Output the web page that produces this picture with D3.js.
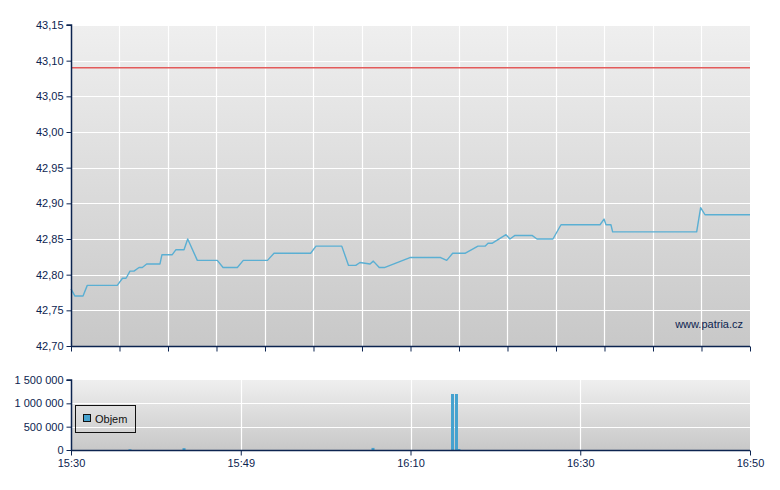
<!DOCTYPE html>
<html>
<head>
<meta charset="utf-8">
<script src="https://cdn.jsdelivr.net/npm/d3@7"></script>
<style>
  html, body { margin: 0; padding: 0; background: #ffffff; }
  svg { display: block; font-family: "Liberation Sans", Arial, sans-serif; }
</style>
</head>
<body>
<svg id="chart" width="780" height="490"></svg>
<script>
// ---- DATA ----
const priceTimes = ["15:30:00","15:30:28","15:31:25","15:31:55","15:35:27","15:36:04","15:36:29","15:36:57","15:37:25","15:38:01","15:38:24","15:38:55","15:40:29","15:40:43","15:41:56","15:42:22","15:43:19","15:43:45","15:44:53","15:47:14","15:47:55","15:49:36","15:50:18","15:53:09","15:53:55","15:58:14","15:58:52","16:01:54","16:02:42","16:03:33","16:04:03","16:05:14","16:05:37","16:06:19","16:06:55","16:09:56","16:13:33","16:14:16","16:14:58","16:16:25","16:17:57","16:18:47","16:19:08","16:19:36","16:21:15","16:21:43","16:22:19","16:24:19","16:24:54","16:26:47","16:27:44","16:32:20","16:32:48","16:33:02","16:33:37","16:33:49","16:43:43","16:44:11","16:44:42","16:50:00"];
const priceValues = [42.78,42.77,42.77,42.785,42.785,42.795,42.795,42.805,42.805,42.81,42.81,42.815,42.815,42.828,42.828,42.835,42.835,42.85,42.82,42.82,42.81,42.81,42.82,42.82,42.83,42.83,42.84,42.84,42.813,42.813,42.817,42.815,42.819,42.81,42.81,42.824,42.824,42.82,42.83,42.83,42.84,42.84,42.844,42.844,42.856,42.85,42.855,42.855,42.85,42.85,42.87,42.87,42.878,42.87,42.87,42.86,42.86,42.894,42.884,42.884];
const referencePrice = 43.09;

const volumeTimes = ["15:36:57","15:43:19","16:05:35","16:14:57","16:15:25","16:15:42"];
const volumeValues = [15000,40000,45000,1200000,1200000,20000];

const priceTicks = [42.70,42.75,42.80,42.85,42.90,42.95,43.00,43.05,43.10,43.15];
const volumeTicks = [0,500000,1000000,1500000];
const timeTickTimes = ["15:30:00","15:50:00","16:10:00","16:30:00","16:50:00"];
const timeTickLabels = ["15:30","15:49","16:10","16:30","16:50"];
const seriesName = "Objem";
const watermark = "www.patria.cz";

// ---- HELPERS ----
const parseT = s => { const [h,m,sec] = s.split(":").map(Number); return new Date(2020,0,1,h,m,sec); };
const fmtPrice = v => v.toFixed(2).replace(".", ",");
const fmtVol = v => d3.format(",")(v).replace(/,/g, " ");

const navy = "#0c2450";
const svg = d3.select("#chart");

const x = d3.scaleTime().domain([parseT("15:30:00"), parseT("16:50:00")]).range([71, 750]);
const yP = d3.scaleLinear().domain([42.70, 43.15]).range([346, 25]);
const yV = d3.scaleLinear().domain([0, 1500000]).range([450, 380]);

const defs = svg.append("defs");
const grad = defs.append("linearGradient").attr("id","bg").attr("x1",0).attr("y1",0).attr("x2",0).attr("y2",1);
grad.append("stop").attr("offset","0%").attr("stop-color","#efefef");
grad.append("stop").attr("offset","100%").attr("stop-color","#c8c8c8");

// ---- TOP PANEL ----
const gTop = svg.append("g");
gTop.append("rect").attr("x", x.range()[0]).attr("y", yP.range()[1])
  .attr("width", x.range()[1]-x.range()[0]).attr("height", yP.range()[0]-yP.range()[1])
  .attr("fill","url(#bg)");

// vertical grid: 14 equal divisions of the time domain
const d0 = x.domain()[0].getTime(), d1 = x.domain()[1].getTime();
const topVTicks = d3.range(0, 15).map(i => new Date(d0 + (d1-d0)*i/14));

gTop.append("g").selectAll("line").data(priceTicks.slice(1)).join("line")
  .attr("x1", x.range()[0]).attr("x2", x.range()[1])
  .attr("y1", d => Math.round(yP(d))+0.5).attr("y2", d => Math.round(yP(d))+0.5)
  .attr("stroke","#ffffff").attr("stroke-width",1.2);
gTop.append("g").selectAll("line").data(topVTicks.slice(1,-1)).join("line")
  .attr("x1", d => Math.round(x(d))+0.5).attr("x2", d => Math.round(x(d))+0.5)
  .attr("y1", yP.range()[1]).attr("y2", yP.range()[0])
  .attr("stroke","#ffffff").attr("stroke-width",1.2);

// reference line
gTop.append("line")
  .attr("x1", x.range()[0]).attr("x2", x.range()[1])
  .attr("y1", yP(referencePrice)).attr("y2", yP(referencePrice))
  .attr("stroke","#e35b5b").attr("stroke-width",1.5);

// price line
const priceData = priceTimes.map((t,i) => ({t: parseT(t), v: priceValues[i]}));
gTop.append("path").datum(priceData)
  .attr("d", d3.line().x(d => x(d.t)).y(d => yP(d.v)))
  .attr("fill","none").attr("stroke","#5aafd3").attr("stroke-width",1.4)
  .attr("stroke-linejoin","round");

// watermark
gTop.append("text").attr("x", 743).attr("y", 328).attr("text-anchor","end")
  .attr("font-size", 11).attr("fill", navy).text(watermark);

// axes
const yAxisP = d3.axisLeft(yP).tickValues(priceTicks).tickFormat(fmtPrice).tickSize(5).tickPadding(3);
const gyP = gTop.append("g").attr("transform","translate(71.5,0)").call(yAxisP);
const xAxisTop = d3.axisBottom(x).tickValues(topVTicks).tickFormat("").tickSize(5);
const gxT = gTop.append("g").attr("transform", `translate(0,${yP.range()[0]+0.5})`).call(xAxisTop);

// ---- BOTTOM PANEL ----
const gBot = svg.append("g");
gBot.append("rect").attr("x", x.range()[0]).attr("y", yV.range()[1])
  .attr("width", x.range()[1]-x.range()[0]).attr("height", yV.range()[0]-yV.range()[1])
  .attr("fill","url(#bg)");
gBot.append("g").selectAll("line").data(volumeTicks.slice(1,-1)).join("line")
  .attr("x1", x.range()[0]).attr("x2", x.range()[1])
  .attr("y1", d => Math.round(yV(d))+0.5).attr("y2", d => Math.round(yV(d))+0.5)
  .attr("stroke","#ffffff").attr("stroke-width",1.2);
gBot.append("g").selectAll("line").data(timeTickTimes.slice(1,-1).map(parseT)).join("line")
  .attr("x1", d => Math.round(x(d))+0.5).attr("x2", d => Math.round(x(d))+0.5)
  .attr("y1", yV.range()[1]).attr("y2", yV.range()[0])
  .attr("stroke","#ffffff").attr("stroke-width",1.2);

// bars
const volData = volumeTimes.map((t,i) => ({t: parseT(t), v: volumeValues[i]}));
gBot.append("g").selectAll("rect").data(volData).join("rect")
  .attr("x", d => x(d.t) - 1.5).attr("width", 3)
  .attr("y", d => yV(d.v)).attr("height", d => yV(0) - yV(d.v))
  .attr("fill","#45a2cf");

// axes
const yAxisV = d3.axisLeft(yV).tickValues(volumeTicks).tickFormat(fmtVol).tickSize(5).tickPadding(3);
const gyV = gBot.append("g").attr("transform","translate(71.5,0)").call(yAxisV);
const xAxisB = d3.axisBottom(x).tickValues(timeTickTimes.map(parseT))
  .tickFormat((d,i) => timeTickLabels[i]).tickSize(5).tickPadding(4);
const gxB = gBot.append("g").attr("transform", `translate(0,${yV.range()[0]+0.5})`).call(xAxisB);

// axis styling
[gyP, gxT, gyV, gxB].forEach(g => {
  g.select(".domain").attr("stroke", navy).attr("stroke-width", 1.5);
  g.selectAll(".tick line").attr("stroke", navy);
  g.selectAll(".tick text").attr("fill", navy).attr("font-size", 11)
    .attr("font-family", "Liberation Sans, Arial, sans-serif");
});
gyP.select(".domain").attr("d", `M-5,${yP.range()[1]}H0V${yP.range()[0]}`);
gyV.select(".domain").attr("d", `M-5,${yV.range()[1]}H0V${yV.range()[0]}`);
gxT.select(".domain").attr("d", `M${x.range()[0]},0H${x.range()[1]}`);
gxB.select(".domain").attr("d", `M${x.range()[0]},0H${x.range()[1]}`);

// legend
const leg = gBot.append("g");
leg.append("rect").attr("x", 75.5).attr("y", 405.5).attr("width", 60).attr("height", 27)
  .attr("fill","none").attr("stroke","#111111").attr("stroke-width",1);
leg.append("rect").attr("x", 83.5).attr("y", 414.5).attr("width", 7).attr("height", 7)
  .attr("fill","#45a2cf").attr("stroke","#111111").attr("stroke-width",1);
leg.append("text").attr("x", 95).attr("y", 423).attr("font-size", 11).attr("fill","#111111").text(seriesName);
</script>
</body>
</html>
